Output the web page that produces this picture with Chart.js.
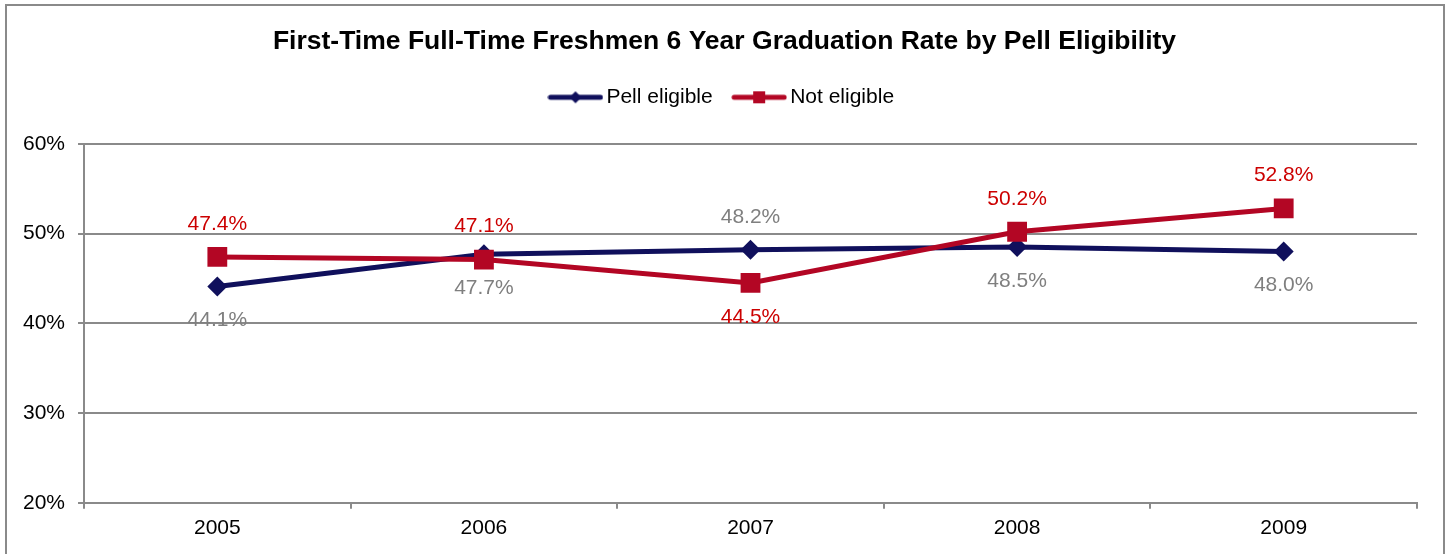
<!DOCTYPE html>
<html>
<head>
<meta charset="utf-8">
<script src="https://cdn.jsdelivr.net/npm/chart.js@4"></script>
<style>
  html, body { margin: 0; padding: 0; background: #fff; }
  #wrap { width: 1449px; height: 554px; position: relative; }
</style>
</head>
<body>
<div id="wrap"><canvas id="gradChart"></canvas></div>
<script>
// ── Data ─────────────────────────────────────────────────────────────────
const years = ['2005', '2006', '2007', '2008', '2009'];
const pellEligible = [44.1, 47.7, 48.2, 48.5, 48.0];
const notEligible = [47.4, 47.1, 44.5, 50.2, 52.8];
// where each value label sits relative to its point
const pellLabelPos = ['below', 'below', 'above', 'below', 'below'];
const notLabelPos = ['above', 'above', 'below', 'above', 'above'];
const yTicks = [20, 30, 40, 50, 60];

const NAVY = '#10105c';
const RED = '#b30624';
const FONT = '"Liberation Sans", Arial, sans-serif';

// legend swatch: line with marker in the middle, Excel style
function legendSwatch(color, shape) {
    const c = document.createElement('canvas');
    c.width = 56; c.height = 14;
    const g = c.getContext('2d');
    g.strokeStyle = color; g.fillStyle = color;
    g.lineWidth = 5; g.lineCap = 'round';
    g.beginPath(); g.moveTo(3, 7); g.lineTo(53, 7); g.stroke();
    g.beginPath();
    if (shape === 'diamond') {
        g.moveTo(28, 1); g.lineTo(34, 7); g.lineTo(28, 13); g.lineTo(22, 7);
    } else {
        g.rect(22, 1, 12, 12);
    }
    g.fill();
    return c;
}

const borderPlugin = {
    id: 'frame',
    afterDraw(chart) {
        const ctx = chart.ctx;
        ctx.save();
        ctx.strokeStyle = '#8a8a8a';
        ctx.lineWidth = 2;
        ctx.strokeRect(6, 5, 1438, 560);
        ctx.restore();
    }
};

// extra room under the legend, and title/legend centred on the full canvas
const headerLayout = {
    id: 'headerLayout',
    beforeLayout(chart) {
        const lg = chart.legend;
        if (lg && !lg._gapPatched) {
            const fit = lg.fit;
            lg.fit = function () { fit.call(this); this.height += 26; };
            lg._gapPatched = true;
        }
    },
    afterLayout(chart) {
        [chart.titleBlock, chart.legend].forEach(b => {
            if (!b) return;
            b.left = 0;
            b.right = chart.width;
            b.width = chart.width;
        });
    }
};

const valueLabels = {
    id: 'valueLabels',
    afterDatasetsDraw(chart) {
        const ctx = chart.ctx;
        ctx.save();
        ctx.font = '21px ' + FONT;
        ctx.textAlign = 'center';
        ctx.textBaseline = 'middle';
        chart.data.datasets.forEach((ds, i) => {
            const meta = chart.getDatasetMeta(i);
            meta.data.forEach((pt, j) => {
                const off = ds.labelPos[j] === 'above' ? -33 : 34;
                ctx.fillStyle = ds.labelColor;
                ctx.fillText(ds.data[j].toFixed(1) + '%', pt.x, pt.y + off);
            });
        });
        ctx.restore();
    }
};

new Chart(document.getElementById('gradChart'), {
    type: 'line',
    data: {
        labels: years,
        datasets: [
            {
                label: 'Pell eligible',
                data: pellEligible,
                labelPos: pellLabelPos,
                labelColor: '#7f7f7f',
                borderColor: NAVY,
                backgroundColor: NAVY,
                borderWidth: 5,
                pointStyle: 'rectRot',
                pointRadius: 10,
                pointHoverRadius: 10,
                pointBorderWidth: 0,
                order: 1,
                legendImg: legendSwatch(NAVY, 'diamond')
            },
            {
                label: 'Not eligible',
                data: notEligible,
                labelPos: notLabelPos,
                labelColor: '#cc0000',
                borderColor: RED,
                backgroundColor: RED,
                borderWidth: 5,
                pointStyle: 'rect',
                pointRadius: 14,
                pointHoverRadius: 14,
                pointBorderWidth: 0,
                order: 0,
                legendImg: legendSwatch(RED, 'square')
            }
        ]
    },
    options: {
        responsive: true,
        maintainAspectRatio: false,
        animation: false,
        layout: { padding: { left: 10, right: 32, top: 12, bottom: 6 } },
        plugins: {
            title: {
                display: true,
                text: 'First-Time Full-Time Freshmen 6 Year Graduation Rate by Pell Eligibility',
                color: '#000',
                font: { family: FONT, size: 26.5, weight: 'bold' },
                padding: { top: 14, bottom: 3 }
            },
            legend: {
                display: true,
                labels: {
                    color: '#000',
                    font: { family: FONT, size: 21 },
                    usePointStyle: true,
                    pointStyleWidth: 41,
                    boxHeight: 14,
                    padding: 26,
                    sort: (a, b) => a.datasetIndex - b.datasetIndex,
                    generateLabels(chart) {
                        return chart.data.datasets.map((ds, i) => ({
                            text: ds.label,
                            pointStyle: ds.legendImg,
                            fillStyle: ds.borderColor,
                            strokeStyle: ds.borderColor,
                            lineWidth: 0,
                            fontColor: '#000',
                            datasetIndex: i,
                            hidden: false
                        }));
                    }
                }
            },
            tooltip: { enabled: false }
        },
        scales: {
            x: {
                offset: true,
                grid: {
                    offset: true,
                    drawOnChartArea: false,
                    color: '#8a8a8a',
                    lineWidth: 2,
                    tickLength: 6
                },
                border: { color: '#8a8a8a', width: 2 },
                ticks: {
                    color: '#000',
                    font: { family: FONT, size: 21 },
                    padding: 7
                }
            },
            y: {
                min: 20,
                max: 60,
                afterBuildTicks(axis) { axis.ticks = yTicks.map(v => ({ value: v })); },
                grid: {
                    color: '#8a8a8a',
                    lineWidth: 2,
                    tickLength: 6
                },
                border: { color: '#8a8a8a', width: 2 },
                ticks: {
                    color: '#000',
                    font: { family: FONT, size: 21 },
                    padding: 13,
                    callback: v => v + '%'
                }
            }
        }
    },
    plugins: [borderPlugin, headerLayout, valueLabels]
});
</script>
</body>
</html>
